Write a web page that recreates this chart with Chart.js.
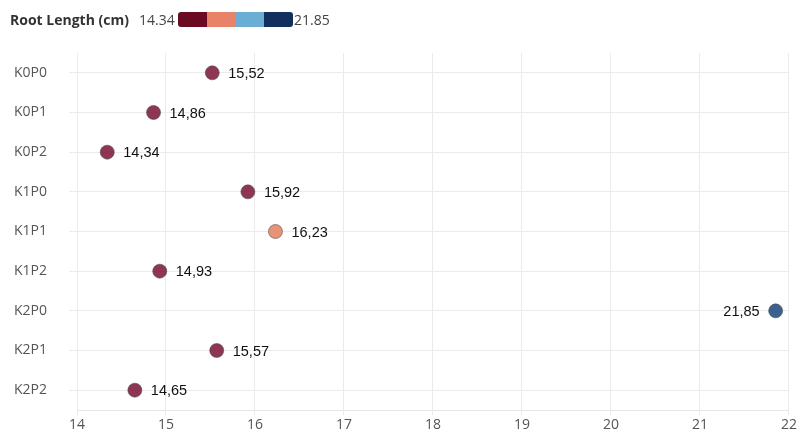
<!DOCTYPE html>
<html>
<head>
<meta charset="utf-8">
<script src="https://cdn.jsdelivr.net/npm/chart.js@4/dist/chart.umd.min.js"></script>
<style>
  body { margin: 0; background: #fff; }
  #wrap { position: relative; width: 799px; height: 432px; }
  #legend { position: absolute; left: 0; top: 0; width: 799px; height: 40px;
            font-family: "Open Sans", Lato, sans-serif; font-size: 14px; color: #444; }
  #legend > * { position: absolute; top: 11px; line-height: 17px; }
  #legend b { left: 10px; color: #333; font-size: 14px; }
  #minLbl { left: 139px; }
  #ramp { left: 178px; top: 12px; width: 115px; height: 15px; border-radius: 3px; overflow: hidden; display: flex; }
  #ramp span { flex: 1; }
  #maxLbl { left: 294px; }
  canvas { position: absolute; left: 0; top: 0; }
</style>
</head>
<body>
<div id="wrap">
  <canvas id="chart" width="799" height="432"></canvas>
  <div id="legend"><b>Root Length (cm)</b><span id="minLbl"></span><div id="ramp"></div><span id="maxLbl"></span></div>
</div>
<script>
const treatments = ['K0P0', 'K0P1', 'K0P2', 'K1P0', 'K1P1', 'K1P2', 'K2P0', 'K2P1', 'K2P2'];
const rootLength = [15.52, 14.86, 14.34, 15.92, 16.23, 14.93, 21.85, 15.57, 14.65];
const xTicks = [14, 15, 16, 17, 18, 19, 20, 21, 22];
const rampColors = ['#6a0b23', '#e8836a', '#6aaed6', '#12305e'];
const pointColors = ['rgba(122,20,55,0.85)', 'rgba(232,140,115,0.95)', 'rgba(106,174,214,0.9)', 'rgba(40,80,130,0.9)'];

const minV = Math.min(...rootLength);
const maxV = Math.max(...rootLength);

// legend
document.getElementById('minLbl').textContent = minV.toFixed(2);
document.getElementById('maxLbl').textContent = maxV.toFixed(2);
const ramp = document.getElementById('ramp');
rampColors.forEach(c => {
  const s = document.createElement('span');
  s.style.background = c;
  ramp.appendChild(s);
});

function binOf(v) {
  const step = (maxV - minV) / rampColors.length;
  return Math.min(rampColors.length - 1, Math.floor((v - minV) / step));
}

// value labels next to each dot
const valueLabels = {
  id: 'valueLabels',
  afterDatasetsDraw(chart) {
    const ctx = chart.ctx;
    const meta = chart.getDatasetMeta(0);
    ctx.save();
    ctx.font = '14.5px "Liberation Sans", Arial, sans-serif';
    ctx.fillStyle = '#111';
    ctx.textBaseline = 'middle';
    meta.data.forEach((pt, i) => {
      const txt = rootLength[i].toFixed(2).replace('.', ',');
      if (pt.x > chart.chartArea.right - 60) {
        ctx.textAlign = 'right';
        ctx.fillText(txt, pt.x - 16, pt.y + 1);
      } else {
        ctx.textAlign = 'left';
        ctx.fillText(txt, pt.x + 16, pt.y + 1);
      }
    });
    ctx.restore();
  }
};

const tickFont = { family: '"Open Sans", Lato, sans-serif', size: 14 };

new Chart(document.getElementById('chart'), {
  type: 'line',
  data: {
    labels: treatments,
    datasets: [{
      data: rootLength,
      showLine: false,
      pointRadius: 7,
      pointHoverRadius: 7,
      pointBackgroundColor: rootLength.map(v => pointColors[binOf(v)]),
      pointBorderColor: 'rgba(70,70,70,0.55)',
      pointBorderWidth: 1
    }]
  },
  options: {
    responsive: false,
    animation: false,
    indexAxis: 'y',
    layout: { padding: { top: 53, right: 10, bottom: 0, left: 0 } },
    plugins: { legend: { display: false }, tooltip: { enabled: false } },
    scales: {
      x: {
        type: 'linear',
        min: 14,
        max: 22,
        afterBuildTicks: s => { s.ticks = xTicks.map(v => ({ value: v })); },
        afterFit: s => { s.height = 22; },
        grid: { color: '#ebebeb', tickLength: 5 },
        border: { color: '#e6e6e6' },
        ticks: { padding: 2, color: '#555', font: tickFont }
      },
      y: {
        type: 'category',
        offset: true,
        afterFit: s => { s.width = 77; s.paddingTop = 0; s.paddingBottom = 0; },
        grid: { color: '#ebebeb', offset: false, tickLength: 8 },
        border: { display: false },
        ticks: { padding: 22, color: '#555', font: tickFont }
      }
    }
  },
  plugins: [valueLabels]
});
</script>
</body>
</html>
